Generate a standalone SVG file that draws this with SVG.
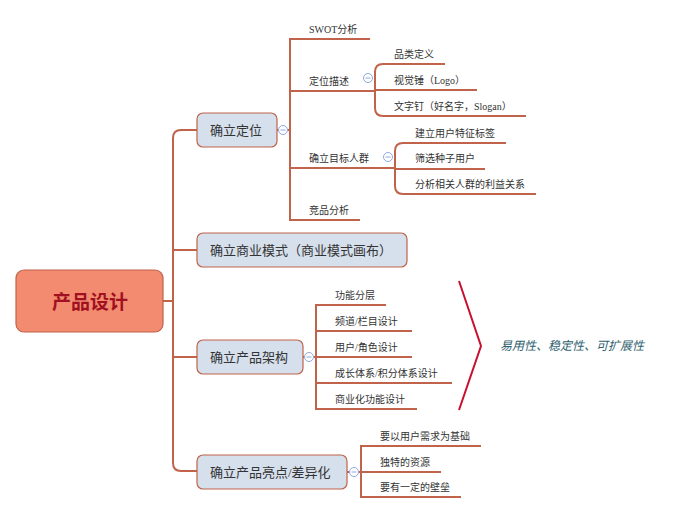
<svg xmlns="http://www.w3.org/2000/svg" width="673" height="514" viewBox="0 0 673 514">
<style>
.ln{fill:none;stroke:#c0634a;stroke-width:2}
.br{fill:#d6dfec;stroke:#c0634a;stroke-width:1.2}
.bt{font-family:"Liberation Serif","Noto Sans CJK SC",serif;font-size:13px;fill:#333}
.lt{font-family:"Liberation Serif","Noto Sans CJK SC",serif;font-size:10px;fill:#333}
.cc{fill:#fff;stroke:#8fa8e0;stroke-width:1}
.cm{stroke:#8fa8e0;stroke-width:1}
</style>
<rect width="673" height="514" fill="#fff"/>
<g id="connectors">
<path class="ln" d="M163 301H173M197 130H181Q173 130 173 138V463Q173 471 181 471H197M173 250H197M173 357H197"/>
<path class="ln" d="M277 130H290M370 39H290V220H360M290 91H375M290 168H395"/>
<path class="ln" d="M445 64H383Q375 64 375 72V108Q375 116 383 116H526M375 90H477"/>
<path class="ln" d="M506 143H403Q395 143 395 151V186Q395 194 403 194H536M395 169H485"/>
<path class="ln" d="M303 357H316M386 305H316V409H417M316 331H412M316 357H412M316 383H452"/>
<path class="ln" d="M347 472H361M481 446H361V497H461M361 472H441"/>
<polyline points="459,281 481,346 459,410" fill="none" stroke="#c8102e" stroke-width="2"/>
</g>
<g id="root"><rect x="16" y="270" width="147" height="62" rx="8" fill="#f28b70" stroke="#c0634a" stroke-width="1.2"/>
<text x="90" y="309" text-anchor="middle" font-family="Liberation Serif,'Noto Sans CJK SC',serif" font-size="19" font-weight="bold" fill="#a01020">产品设计</text></g>
<g id="b1"><rect class="br" x="197" y="113" width="80" height="34" rx="6"/><text class="bt" x="210" y="135">确立定位</text>
<circle class="cc" cx="283" cy="130" r="4.5"/><path class="cm" d="M280.5 130H285.5"/></g>
<g id="b2"><rect class="br" x="197" y="233" width="210" height="34" rx="6"/><text class="bt" x="210" y="255">确立商业模式（商业模式画布）</text></g>
<g id="b3"><rect class="br" x="197" y="340" width="106" height="34" rx="6"/><text class="bt" x="210" y="362">确立产品架构</text>
<circle class="cc" cx="309" cy="357" r="4.5"/><path class="cm" d="M306.5 357H311.5"/></g>
<g id="b4"><rect class="br" x="197" y="455" width="150" height="34" rx="6"/><text class="bt" x="210" y="477">确立产品亮点/差异化</text>
<circle class="cc" cx="354" cy="472" r="4.5"/><path class="cm" d="M351.5 472H356.5"/></g>
<g id="l1"><text class="lt" x="309" y="33">SWOT分析</text></g>
<g id="l2"><text class="lt" x="309" y="85">定位描述</text><circle class="cc" cx="368" cy="78" r="4.5"/><path class="cm" d="M365.5 78H370.5"/></g>
<g id="l3"><text class="lt" x="309" y="162">确立目标人群</text><circle class="cc" cx="388" cy="157" r="4.5"/><path class="cm" d="M385.5 157H390.5"/></g>
<g id="l4"><text class="lt" x="309" y="214">竞品分析</text></g>
<g id="l5"><text class="lt" x="394" y="58">品类定义</text></g>
<g id="l6"><text class="lt" x="394" y="84">视觉锤（Logo）</text></g>
<g id="l7"><text class="lt" x="394" y="110">文字钉（好名字，Slogan）</text></g>
<g id="l8"><text class="lt" x="415" y="137">建立用户特征标签</text></g>
<g id="l9"><text class="lt" x="415" y="162">筛选种子用户</text></g>
<g id="l10"><text class="lt" x="415" y="188">分析相关人群的利益关系</text></g>
<g id="l11"><text class="lt" x="335" y="299">功能分层</text></g>
<g id="l12"><text class="lt" x="335" y="325">频道/栏目设计</text></g>
<g id="l13"><text class="lt" x="335" y="351">用户/角色设计</text></g>
<g id="l14"><text class="lt" x="335" y="377">成长体系/积分体系设计</text></g>
<g id="l15"><text class="lt" x="335" y="403">商业化功能设计</text></g>
<g id="l16"><text class="lt" x="380" y="440">要以用户需求为基础</text></g>
<g id="l17"><text class="lt" x="380" y="466">独特的资源</text></g>
<g id="l18"><text class="lt" x="380" y="491">要有一定的壁垒</text></g>
<g id="note"><text x="500" y="350" font-family="Liberation Serif,'Noto Sans CJK SC',serif" font-size="12" font-style="italic" fill="#2f5f6f">易用性、稳定性、可扩展性</text></g>
</svg>
